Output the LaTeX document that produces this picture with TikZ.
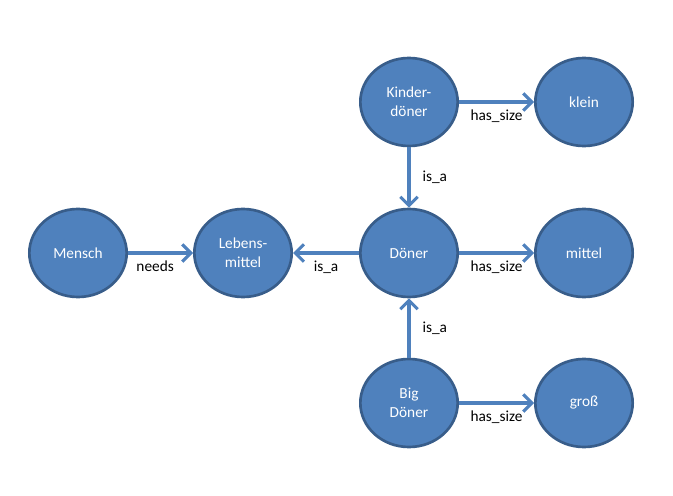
\documentclass[tikz,border=0pt]{standalone}
\usepackage{fontspec}
\setmainfont{Carlito}
\usetikzlibrary{calc}
\usetikzlibrary{arrows.meta}
\usetikzlibrary{shapes.geometric}
\definecolor{ballfill}{HTML}{4F81BD}
\definecolor{balledge}{HTML}{385D8A}

\begin{document}
\begin{tikzpicture} [x=.75pt, y=-.75pt, font=\fontsize{11.5}{14}\selectfont,
  ball/.style={ellipse, draw=balledge, fill=ballfill, line width=2pt, text=white, align=center, minimum width=73pt, minimum height=66pt, inner sep=0},
  link/.style={draw=ballfill, line width=2.3pt, -{Straight Barb[length=6.5pt,width=13pt]}},
  lbl/.style={text=black, inner sep=3}]
\useasboundingbox (0,0) rectangle (673,495);
\node[ball] (mensch) at (78,253) {Mensch};
\node[ball] (lebensmittel) at (243,253) {Lebens-\\mittel};
\node[ball] (doener) at (409,253) {Döner};
\node[ball] (mittel) at (584,253) {mittel};
\node[ball] (kinderdoener) at (409,102) {Kinder-\\döner};
\node[ball] (klein) at (584,102) {klein};
\node[ball] (bigdoener) at (409,403) {Big\\Döner};
\node[ball] (gross) at (584,403) {groß};
\draw[link] (mensch) -- (lebensmittel) node[midway, below, lbl, xshift=-4, yshift=-2]{needs};
\draw[link] (doener) -- (lebensmittel) node[midway, below, lbl, yshift=-2]{is\_a};
\foreach \a/\b in {doener/mittel, kinderdoener/klein, bigdoener/gross} {
  \draw[link] (\a) -- (\b) node[midway, below, lbl, yshift=-2]{has\_size};
}
\foreach \a in {kinderdoener, bigdoener} {
  \draw[link] (\a) -- (doener) node[midway, right, lbl, xshift=6]{is\_a};
}
\end{tikzpicture}
\end{document}
